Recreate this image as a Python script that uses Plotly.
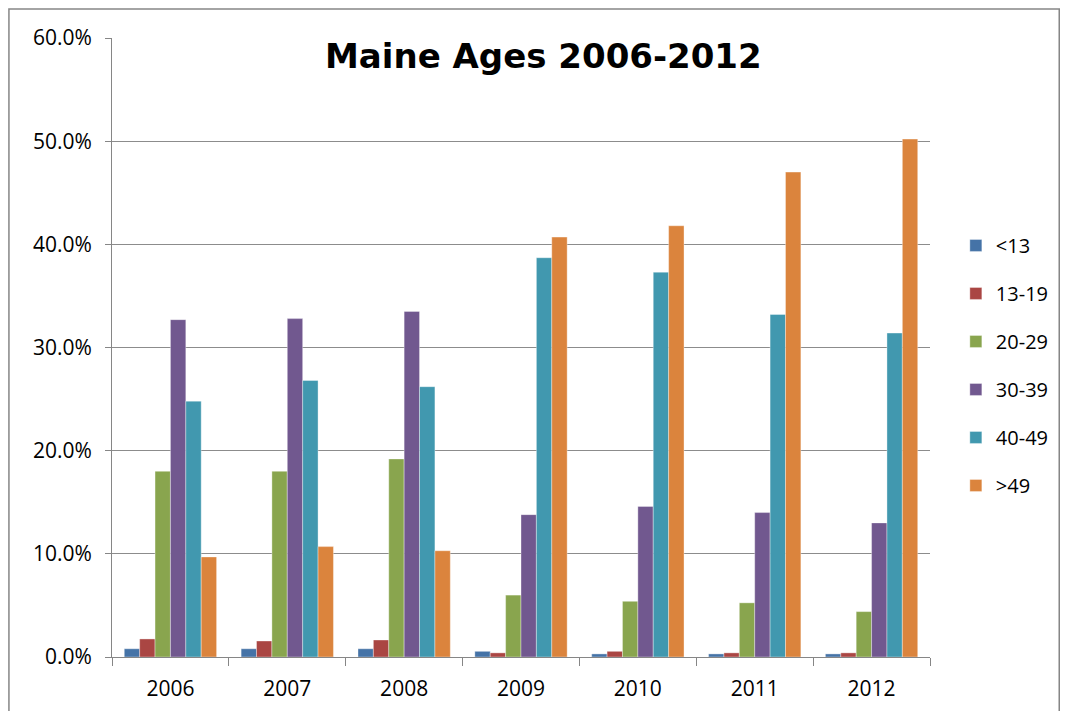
import plotly.graph_objects as go

years = ["2006", "2007", "2008", "2009", "2010", "2011", "2012"]
age_groups = ["<13", "13-19", "20-29", "30-39", "40-49", ">49"]

# Share of each age group per year, in percent.
under_13 = [0.8, 0.8, 0.8, 0.55, 0.3, 0.3, 0.3]
age_13_19 = [1.75, 1.55, 1.65, 0.4, 0.55, 0.4, 0.4]
age_20_29 = [18.0, 18.0, 19.2, 6.0, 5.4, 5.25, 4.4]
age_30_39 = [32.7, 32.8, 33.5, 13.8, 14.6, 14.0, 13.0]
age_40_49 = [24.8, 26.8, 26.2, 38.7, 37.3, 33.2, 31.4]
over_49 = [9.7, 10.7, 10.3, 40.7, 41.8, 47.0, 50.2]

series = [under_13, age_13_19, age_20_29, age_30_39, age_40_49, over_49]
colors = ["#4573A7", "#AA4643", "#89A54E", "#71588F", "#4198AF", "#DB843D"]

FONT = "Open Sans, Liberation Sans, sans-serif"

fig = go.Figure()
for name, values, color in zip(age_groups, series, colors):
    fig.add_trace(
        go.Bar(
            x=years,
            y=[v / 100 for v in values],
            name=name,
            legendgroup=name,
            marker=dict(color=color, line=dict(color="rgba(255,255,255,0.6)", width=0.6)),
        )
    )

# Title sits inside the plot area, Excel style.
fig.add_annotation(
    x=0.527,
    y=0.971,
    xref="paper",
    yref="paper",
    text="<b>Maine Ages 2006-2012</b>",
    showarrow=False,
    yanchor="middle",
    font=dict(family="DejaVu Sans, sans-serif", size=34, color="#000000"),
)

# Chart frame (the page body adds an 8px margin around the figure).
fig.add_shape(
    type="rect",
    xref="paper",
    yref="paper",
    x0=-0.126,
    x1=1.158,
    y0=-0.12,
    y1=1.047,
    line=dict(color="#868686", width=1.5),
    layer="below",
)

fig.update_layout(
    barmode="group",
    bargap=0.21,
    bargroupgap=0,
    width=1052,
    height=703,
    paper_bgcolor="white",
    plot_bgcolor="white",
    margin=dict(l=104, r=130, t=30, b=54, autoexpand=False),
    font=dict(family=FONT, size=21, color="#000000"),
    legend=dict(
        xref="container",
        x=0.901,
        y=0.471,
        yanchor="middle",
        xanchor="left",
        bgcolor="rgba(0,0,0,0)",
        font=dict(size=20),
        tracegroupgap=19,
        itemwidth=30,
    ),
    xaxis=dict(
        showline=True,
        linecolor="#868686",
        linewidth=1,
        ticks="outside",
        tickson="boundaries",
        ticklen=8,
        tickcolor="#868686",
        tickfont=dict(size=21),
        ticklabelstandoff=13,
        showgrid=False,
    ),
    yaxis=dict(
        range=[0, 0.6],
        dtick=0.1,
        tickformat=".1%",
        showline=True,
        linecolor="#868686",
        linewidth=1,
        ticks="outside",
        ticklen=6,
        tickcolor="#868686",
        tickfont=dict(size=21),
        ticklabelstandoff=9,
        showgrid=True,
        gridcolor="#8C8C8C",
        gridwidth=1,
        zeroline=False,
    ),
)

fig.write_html("out.html")
